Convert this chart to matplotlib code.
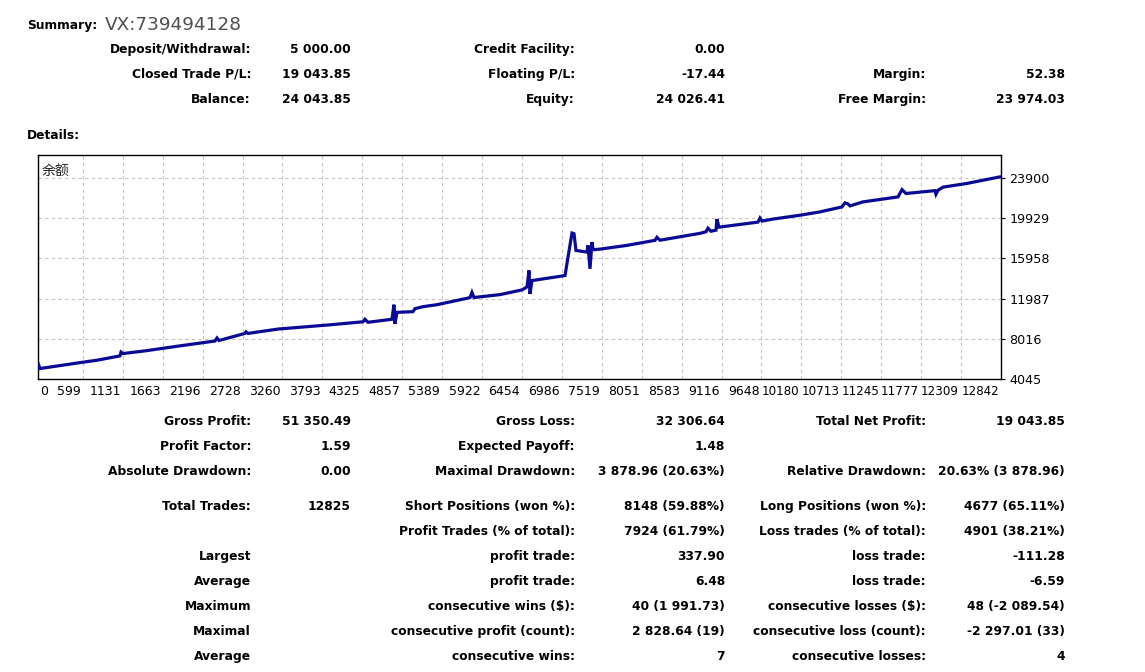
import matplotlib
matplotlib.use("Agg")
import matplotlib.pyplot as plt
from matplotlib.transforms import offset_copy

W, H = 1145, 672

# ---------------- data ----------------
trades = [0, 13, 27, 560, 787, 1093, 1107, 1133, 1427, 1894, 2360, 2387, 2414,
          2760, 2774, 2800, 3200, 3894, 4334, 4360, 4400, 4720, 4747, 4760, 4787,
          5000, 5027, 5134, 5321, 5761, 5787, 5814, 6161, 6454, 6521, 6548, 6561,
          6587, 7028, 7068, 7121, 7148, 7174, 7321, 7334, 7361, 7388, 7401, 7494,
          7854, 8228, 8254, 8294, 8828, 8908, 8934, 8974, 9041, 9054, 9081, 9495,
          9601, 9628, 9655, 9801, 10161, 10428, 10721, 10761, 10801, 10828, 11001,
          11468, 11522, 11575, 11962, 11975, 12002, 12068, 12388, 12842]
balance = [5100, 5350, 5080, 5663, 5900, 6330, 6700, 6560, 6825, 7321, 7800, 8100, 7850,
           8550, 8700, 8550, 8980, 9400, 9700, 9950, 9650, 9950, 11390, 9500, 10630,
           10700, 11000, 11190, 11390, 12086, 12600, 12100, 12384, 12850, 13150, 14770, 12450,
           13770, 14270, 16090, 18470, 18400, 16750, 16590, 17250, 14935, 17576, 16822, 16880,
           17250, 17750, 18050, 17760, 18440, 18600, 18950, 18650, 18750, 19850, 19050, 19450,
           19550, 19950, 19650, 19850, 20230, 20560, 21050, 21450, 21350, 21150, 21550,
           22040, 22760, 22380, 22660, 22300, 22700, 23006, 23374, 24043]

x_tick_labels = ["0", "599", "1131", "1663", "2196", "2728", "3260", "3793", "4325",
                 "4857", "5389", "5922", "6454", "6986", "7519", "8051", "8583", "9116",
                 "9648", "10180", "10713", "11245", "11777", "12309", "12842"]
y_ticks = [4045, 8016, 11987, 15958, 19929, 23900]
y_top = 26183
chart_label = "余额"

summary_title = "Summary:"
account = "VX:739494128"
summary_rows = [
    ["Deposit/Withdrawal:", "5 000.00", "Credit Facility:", "0.00", "", ""],
    ["Closed Trade P/L:", "19 043.85", "Floating P/L:", "-17.44", "Margin:", "52.38"],
    ["Balance:", "24 043.85", "Equity:", "24 026.41", "Free Margin:", "23 974.03"],
]
details_title = "Details:"
detail_rows = [
    ["Gross Profit:", "51 350.49", "Gross Loss:", "32 306.64", "Total Net Profit:", "19 043.85"],
    ["Profit Factor:", "1.59", "Expected Payoff:", "1.48", "", ""],
    ["Absolute Drawdown:", "0.00", "Maximal Drawdown:", "3 878.96 (20.63%)", "Relative Drawdown:", "20.63% (3 878.96)"],
    ["Total Trades:", "12825", "Short Positions (won %):", "8148 (59.88%)", "Long Positions (won %):", "4677 (65.11%)"],
    ["", "", "Profit Trades (% of total):", "7924 (61.79%)", "Loss trades (% of total):", "4901 (38.21%)"],
    ["Largest", "", "profit trade:", "337.90", "loss trade:", "-111.28"],
    ["Average", "", "profit trade:", "6.48", "loss trade:", "-6.59"],
    ["Maximum", "", "consecutive wins ($):", "40 (1 991.73)", "consecutive losses ($):", "48 (-2 089.54)"],
    ["Maximal", "", "consecutive profit (count):", "2 828.64 (19)", "consecutive loss (count):", "-2 297.01 (33)"],
    ["Average", "", "consecutive wins:", "7", "consecutive losses:", "4"],
]

# ---------------- layout ----------------
summary_y = [48, 73, 98]
detail_y = [420, 445, 470, 505, 530, 555, 580, 605, 630, 655]
col_right = [251, 351, 575, 725, 926, 1065]
BASE = 4.6  # baseline offset below row centre (px)

plt.rcParams['font.family'] = ['DejaVu Sans', 'Noto Sans CJK SC']

fig = plt.figure(figsize=(W / 100, H / 100), dpi=100)
fig.patch.set_facecolor('white')


def fx(x):
    return x / W


def fy(y):
    return 1 - y / H


BOLD = dict(fontsize=8.8, fontweight='bold', color='black', va='baseline')

fig.text(fx(27), fy(24 + BASE), summary_title, ha='left', **BOLD)
fig.text(fx(105), fy(23 + 7.3), account, ha='left', va='baseline', fontsize=13.3, color='#505050')
fig.text(fx(27), fy(134 + BASE), details_title, ha='left', **BOLD)

for row, y in zip(summary_rows, summary_y):
    for txt, xr in zip(row, col_right):
        if txt:
            fig.text(fx(xr), fy(y + BASE), txt, ha='right', **BOLD)

for row, y in zip(detail_rows, detail_y):
    for txt, xr in zip(row, col_right):
        if txt:
            fig.text(fx(xr), fy(y + BASE), txt, ha='right', **BOLD)

# ---------------- chart ----------------
ax_l, ax_r, ax_t, ax_b = 38, 1001, 155, 379
ax = fig.add_axes([fx(ax_l), fy(ax_b), (ax_r - ax_l) / W, (ax_b - ax_t) / H])
ax.set_facecolor('white')

x_ticks = [int(s) for s in x_tick_labels]
ax.set_xlim(0, x_ticks[-1])
ax.set_ylim(y_ticks[0], y_top)

ax.plot(trades, balance, color='#0a0a96', lw=2.3, solid_joinstyle='miter', zorder=3)

ax.set_xticks(x_ticks)
ax.set_yticks(y_ticks)
ax.grid(True, color='#c4c4c4', linestyle=(0, (3, 3)), lw=0.8, zorder=0)
ax.tick_params(axis='x', length=0, labelbottom=False)
ax.tick_params(axis='y', direction='out', length=3, width=0.8, left=False, labelleft=False,
               right=True, labelright=True, labelsize=9.2, pad=3, colors='black')
for s in ax.spines.values():
    s.set_linewidth(1.0)
    s.set_color('black')

# x tick labels: right-aligned just before each grid line
trans = ax.get_xaxis_transform()
for i, (pos, lab) in enumerate(zip(x_ticks, x_tick_labels)):
    if i == 0:
        t = offset_copy(trans, fig=fig, x=1.5, y=-4, units='points')
        ax.text(pos, 0, lab, transform=t, ha='left', va='top', fontsize=9.0,
                clip_on=False, zorder=5)
    else:
        t = offset_copy(trans, fig=fig, x=-1.4, y=-4, units='points')
        size = 9.0 if len(lab) < 5 else 8.6
        ax.text(pos, 0, lab, transform=t, ha='right', va='top', fontsize=size,
                clip_on=False, zorder=5)

ax.text(0.004, 0.93, chart_label, transform=ax.transAxes, ha='left', va='center',
        fontsize=10, family=['Noto Sans CJK SC', 'DejaVu Sans'], color='#202020', zorder=6)

fig.savefig('out.png', dpi=100, facecolor='white')
